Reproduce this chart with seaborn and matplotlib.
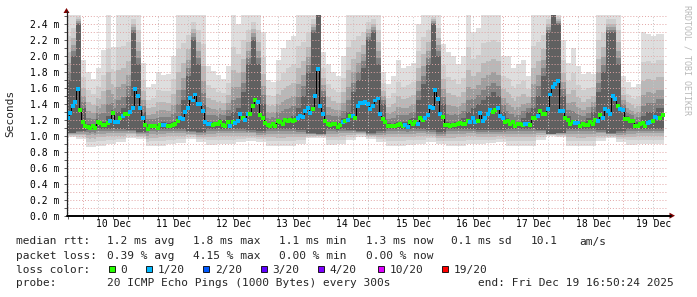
import numpy as np
import pandas as pd
import matplotlib
matplotlib.use("Agg")
import matplotlib.pyplot as plt
from matplotlib.lines import Line2D
from matplotlib.patches import Rectangle, Polygon
from matplotlib.ticker import MultipleLocator
import matplotlib.transforms as mtransforms
import seaborn as sns

# ---------------- data ----------------
# hourly median RTT in ms, starting Dec 9 ~17:40
median_ms = [
    1.227, 1.29, 1.37, 1.42, 1.59, 1.33, 1.18, 1.13, 1.11, 1.105,
    1.12, 1.105, 1.18, 1.16, 1.135, 1.14, 1.165, 1.185, 1.29, 1.18,
    1.18, 1.23, 1.255, 1.27, 1.28, 1.30, 1.35, 1.59, 1.50, 1.35,
    1.23, 1.135, 1.09, 1.12, 1.12, 1.12, 1.105, 1.135, 1.14, 1.14,
    1.127, 1.127, 1.135, 1.155, 1.19, 1.22, 1.21, 1.30, 1.345, 1.48,
    1.445, 1.52, 1.40, 1.395, 1.31, 1.18, 1.155, 1.15, 1.135, 1.15,
    1.15, 1.18, 1.14, 1.13, 1.18, 1.13, 1.18, 1.16, 1.185, 1.27,
    1.22, 1.20, 1.28, 1.28, 1.375, 1.45, 1.42, 1.26, 1.23, 1.165,
    1.135, 1.12, 1.145, 1.127, 1.185, 1.17, 1.15, 1.20, 1.19, 1.20,
    1.19, 1.195, 1.22, 1.245, 1.24, 1.31, 1.35, 1.29, 1.335, 1.50,
    1.84, 1.375, 1.27, 1.19, 1.145, 1.14, 1.15, 1.145, 1.11, 1.14,
    1.18, 1.19, 1.205, 1.25, 1.255, 1.225, 1.375, 1.41, 1.41, 1.42,
    1.40, 1.34, 1.375, 1.445, 1.47, 1.27, 1.21, 1.17, 1.13, 1.127,
    1.12, 1.13, 1.14, 1.145, 1.13, 1.14, 1.115, 1.18, 1.145, 1.17,
    1.155, 1.225, 1.205, 1.22, 1.26, 1.365, 1.355, 1.58, 1.465, 1.28,
    1.24, 1.14, 1.14, 1.13, 1.135, 1.14, 1.15, 1.165, 1.145, 1.15,
    1.19, 1.18, 1.22, 1.175, 1.19, 1.29, 1.19, 1.225, 1.28, 1.32,
    1.30, 1.32, 1.35, 1.245, 1.225, 1.18, 1.19, 1.145, 1.17, 1.12,
    1.15, 1.15, 1.135, 1.155, 1.15, 1.135, 1.225, 1.225, 1.255, 1.315,
    1.28, 1.28, 1.34, 1.52, 1.61, 1.65, 1.69, 1.315, 1.31, 1.225,
    1.20, 1.155, 1.175, 1.165, 1.165, 1.127, 1.15, 1.14, 1.135, 1.17,
    1.145, 1.195, 1.19, 1.26, 1.23, 1.335, 1.31, 1.27, 1.50, 1.465,
    1.375, 1.335, 1.32, 1.215, 1.215, 1.185, 1.185, 1.127, 1.127, 1.145,
    1.16, 1.13, 1.16, 1.17, 1.19, 1.24, 1.22, 1.23, 1.265,
]
# lost pings (out of 20) for each hourly median
loss_count = [
    1, 1, 1, 1, 1, 0, 0, 0, 0, 0, 0, 0, 0, 0, 0, 0, 0, 1, 0, 1,
    1, 0, 1, 0, 0, 1, 1, 1, 1, 1, 1, 0, 0, 0, 0, 0, 0, 0, 1, 1,
    0, 0, 0, 0, 0, 1, 1, 1, 1, 1, 1, 1, 1, 1, 1, 1, 1, 1, 0, 0,
    0, 0, 0, 0, 0, 1, 0, 1, 1, 1, 0, 1, 1, 0, 0, 0, 1, 0, 0, 0,
    0, 0, 0, 0, 0, 0, 0, 0, 0, 0, 0, 0, 1, 1, 1, 1, 1, 1, 0, 1,
    1, 1, 1, 0, 0, 0, 0, 0, 0, 0, 1, 0, 1, 0, 1, 0, 1, 1, 1, 1,
    1, 1, 1, 1, 1, 1, 0, 0, 0, 0, 0, 0, 0, 0, 0, 1, 1, 0, 0, 0,
    1, 0, 0, 1, 1, 1, 1, 1, 1, 1, 0, 0, 0, 0, 0, 0, 0, 0, 0, 0,
    0, 1, 1, 1, 0, 1, 1, 1, 1, 1, 0, 0, 1, 1, 1, 0, 0, 0, 0, 0,
    0, 0, 0, 1, 1, 0, 0, 0, 1, 0, 0, 0, 1, 1, 1, 1, 1, 1, 1, 0,
    0, 0, 0, 1, 1, 0, 0, 0, 0, 0, 0, 0, 1, 0, 1, 1, 1, 1, 1, 1,
    0, 1, 1, 0, 0, 0, 0, 0, 0, 0, 0, 0, 1, 1, 0, 1, 1, 0, 0,
]
# smoke: 2-hour columns (upper edge of lightest smoke, upper edge of darkest smoke)
smoke_top_ms = [
    2.55, 2.55, 2.55, 1.95, 1.80, 1.72, 1.85, 2.08, 2.55, 2.12,
    2.55, 2.55, 2.55, 2.55, 2.55, 1.92, 1.62, 1.65, 1.80, 1.77,
    1.78, 2.00, 2.55, 2.55, 2.55, 2.55, 2.55, 2.55, 1.88, 1.82,
    1.76, 1.72, 1.88, 2.55, 2.40, 2.55, 2.55, 2.55, 2.55, 2.30,
    1.70, 1.68, 1.95, 2.10, 2.20, 2.25, 2.55, 2.55, 2.55, 2.55,
    2.55, 2.05, 1.90, 1.80, 1.75, 2.00, 2.55, 2.55, 2.55, 2.55,
    2.55, 2.55, 2.55, 1.80, 1.65, 1.75, 1.95, 1.85, 1.88, 1.92,
    2.40, 2.55, 2.55, 2.55, 2.55, 2.15, 2.05, 2.00, 1.90, 2.00,
    2.55, 2.30, 2.35, 2.55, 2.55, 2.55, 2.55, 2.00, 2.00, 1.85,
    1.90, 1.95, 1.75, 2.55, 2.55, 2.55, 2.55, 2.55, 2.55, 2.20,
    1.92, 2.10, 1.88, 1.78, 1.80, 1.78, 2.55, 2.55, 2.55, 2.55,
    2.55, 1.75, 1.68, 1.62, 1.65, 2.30, 2.28, 2.25, 2.28, 2.28,
]
smoke_core_hi_ms = [
    1.70, 2.00, 2.40, 1.35, 1.15, 1.15, 1.15, 1.18, 1.25, 1.25,
    1.30, 1.35, 1.50, 2.30, 1.90, 1.30, 1.15, 1.15, 1.15, 1.15,
    1.15, 1.18, 1.25, 1.45, 1.75, 2.20, 1.90, 1.40, 1.18, 1.18,
    1.18, 1.20, 1.25, 1.30, 1.35, 1.55, 1.90, 2.20, 1.90, 1.40,
    1.15, 1.15, 1.18, 1.20, 1.22, 1.25, 1.35, 1.50, 1.80, 2.30,
    2.55, 1.50, 1.18, 1.15, 1.18, 1.22, 1.30, 1.55, 1.70, 1.85,
    2.20, 2.30, 1.90, 1.40, 1.15, 1.15, 1.15, 1.18, 1.18, 1.22,
    1.45, 1.65, 1.90, 2.40, 2.00, 1.40, 1.15, 1.15, 1.18, 1.22,
    1.30, 1.35, 1.40, 1.45, 1.50, 1.55, 1.50, 1.30, 1.18, 1.15,
    1.18, 1.22, 1.30, 1.35, 1.50, 1.75, 2.30, 2.55, 2.40, 1.50,
    1.25, 1.18, 1.18, 1.18, 1.22, 1.30, 1.55, 1.80, 2.30, 2.30,
    1.90, 1.35, 1.18, 1.15, 1.18, 1.25, 1.30, 1.30, 1.35, 1.35,
]
# smoke: 4-hour columns (lower edge of darkest smoke, lower edge of lightest smoke)
smoke_core_lo_ms = [
    1.04, 1.06, 1.09, 1.09, 1.09, 1.09, 1.07, 1.05, 1.09, 1.09,
    1.09, 1.09, 1.06, 1.05, 1.09, 1.09, 1.09, 1.09, 1.07, 1.06,
    1.09, 1.09, 1.09, 1.08, 1.04, 1.03, 1.09, 1.09, 1.08, 1.06,
    1.04, 1.06, 1.09, 1.09, 1.09, 1.09, 1.07, 1.05, 1.09, 1.09,
    1.09, 1.08, 1.07, 1.07, 1.09, 1.09, 1.09, 1.08, 1.03, 1.04,
    1.09, 1.09, 1.09, 1.07, 1.04, 1.06, 1.09, 1.09, 1.09, 1.09,
]
smoke_bot_ms = [
    0.99, 0.96, 0.86, 0.88, 0.90, 0.92, 0.98, 0.96, 0.87, 0.88,
    0.90, 0.91, 0.96, 0.93, 0.89, 0.90, 0.90, 0.92, 0.94, 0.92,
    0.88, 0.87, 0.88, 0.90, 0.97, 0.98, 0.89, 0.90, 0.95, 0.99,
    0.96, 0.92, 0.88, 0.88, 0.89, 0.90, 0.93, 0.90, 0.87, 0.88,
    0.90, 0.90, 0.91, 0.92, 0.88, 0.88, 0.88, 0.95, 1.00, 0.99,
    0.88, 0.87, 0.88, 0.94, 0.97, 0.92, 0.89, 0.90, 0.90, 0.90,
]

day_labels = ["10 Dec", "11 Dec", "12 Dec", "13 Dec", "14 Dec",
              "15 Dec", "16 Dec", "17 Dec", "18 Dec", "19 Dec"]
y_tick_values = [0.0, 0.2, 0.4, 0.6, 0.8, 1.0, 1.2, 1.4, 1.6, 1.8, 2.0, 2.2, 2.4]
y_tick_labels = ["0.0 m", "0.2 m", "0.4 m", "0.6 m", "0.8 m", "1.0 m", "1.2 m",
                 "1.4 m", "1.6 m", "1.8 m", "2.0 m", "2.2 m", "2.4 m"]
loss_labels = ["0", "1/20", "2/20", "3/20", "4/20", "10/20", "19/20"]
loss_colors = ["#26ff00", "#00b8ff", "#0059ff", "#5e00ff", "#7e00ff", "#dd00ff", "#ff0000"]
rtt_stats = ["1.2 ms avg", "1.8 ms max", "1.1 ms min", "1.3 ms now", "0.1 ms sd", "10.1", "am/s"]
loss_stats = ["0.39 % avg", "4.15 % max", "0.00 % min", "0.00 % now"]
probe_text = "20 ICMP Echo Pings (1000 Bytes) every 300s"
end_text = "end: Fri Dec 19 16:50:24 2025"

# ---------------- figure ----------------
W, H = 697, 297
sns.set_style("white")
plt.rcParams["font.family"] = ["DejaVu Sans Mono", "DejaVu Sans"]

fig = plt.figure(figsize=(W / 100, H / 100), dpi=100, facecolor="white")


def fx(x):
    return x / W


def fy(y):
    return 1 - y / H


AX_L, AX_R, AX_B, AX_T = 66.5, 666.5, 215.7, 15.3
ax = fig.add_axes([fx(AX_L), fy(AX_B), (AX_R - AX_L) / W, (AX_B - AX_T) / H])
ax.set_facecolor("white")

n = len(median_ms)
hours = -6.3 + np.arange(n)            # hours relative to Dec 10 00:00
med = np.array(median_ms)
top = np.repeat(smoke_top_ms, 2)[:n]
chi = np.repeat(smoke_core_hi_ms, 2)[:n]
clo = np.repeat(smoke_core_lo_ms, 4)[:n]
bot = np.repeat(smoke_bot_ms, 4)[:n]
chi = np.maximum(chi, med + 0.03)
clo = np.minimum(clo, med - 0.03)
top = np.maximum(top, chi)
bot = np.minimum(bot, clo)

edges = np.append(hours - 0.5, hours[-1] + 0.5)


def ext(a):
    return np.append(a, a[-1])


# smoke layers, lightest (outer) to darkest (inner)
fr_up = [1.0, 0.65, 0.42, 0.25, 0.12, 0.0]
fr_dn = [1.0, 0.72, 0.5, 0.3, 0.15, 0.0]
shades = ["#dedede", "#cecece", "#b8b8b8", "#9e9e9e", "#818181", "#606060"]
for fu, fd, c in zip(fr_up, fr_dn, shades):
    hi = chi + fu * (top - chi)
    lo = clo - fd * (clo - bot)
    ax.fill_between(edges, ext(lo), ext(hi), step="post", color=c, linewidth=0, zorder=1)

df = pd.DataFrame({"hour": hours, "median": med,
                   "loss": [loss_labels[k] for k in loss_count]})
sns.lineplot(data=df, x="hour", y="median", ax=ax, color="black", linewidth=0.7,
             drawstyle="steps-mid", estimator=None, zorder=3)
present = [l for l in loss_labels if l in set(df["loss"])]
pal = {l: c for l, c in zip(loss_labels, loss_colors) if l in present}
sns.scatterplot(data=df, x="hour", y="median", hue="loss", hue_order=present, palette=pal,
                marker="s", s=8, linewidth=0, legend=False, ax=ax, zorder=4)

ax.set_xlim(-6.72, 233.28)
ax.set_ylim(0, 2.513)
ax.set_xlabel("")
ax.set_ylabel("")
for sp in ax.spines.values():
    sp.set_visible(False)

ax.set_yticks(y_tick_values)
ax.set_yticklabels(y_tick_labels)
ax.yaxis.set_minor_locator(MultipleLocator(0.1))
ax.set_xticks(np.arange(0, 234, 24))
ax.set_xticklabels([])
ax.xaxis.set_minor_locator(MultipleLocator(6))
ax.tick_params(axis="y", which="both", length=2, width=0.6, pad=3.0, labelsize=7,
               color="#444444", labelcolor="black", left=True)
ax.tick_params(axis="x", which="both", length=2.5, width=0.6, color="#444444", bottom=True)

dot = (0, (1, 2))
ax.grid(which="both", axis="y", color="#e2a4a4", linestyle=dot, linewidth=0.7)
ax.grid(which="major", axis="x", color="#e2a4a4", linestyle=dot, linewidth=0.7)
ax.grid(which="minor", axis="x", color="#c8c8c8", linestyle=dot, linewidth=0.7)
ax.set_axisbelow(False)

# day labels at noon
blend = mtransforms.blended_transform_factory(ax.transData, fig.transFigure)
for k, lab in enumerate(day_labels):
    ax.text(12 + 24 * k, fy(227.3), lab, transform=blend, ha="center", va="baseline",
            fontsize=7, color="black")

# axis lines + arrows
fig.add_artist(Line2D([fx(AX_L), fx(AX_L)], [fy(AX_B), fy(11)], color="#222222", lw=0.9))
fig.add_artist(Line2D([fx(AX_L), fx(671)], [fy(AX_B), fy(AX_B)], color="black", lw=1.4))
fig.add_artist(Polygon([[fx(AX_L), fy(8)], [fx(AX_L - 3), fy(13)], [fx(AX_L + 3), fy(13)]],
                       closed=True, transform=fig.transFigure, color="#7f0000", lw=0))
fig.add_artist(Polygon([[fx(675), fy(AX_B)], [fx(669.5), fy(AX_B - 3)], [fx(669.5), fy(AX_B + 3)]],
                       closed=True, transform=fig.transFigure, color="#7f0000", lw=0))

# y label and watermark
fig.text(fx(10), fy(113), "Seconds", rotation=90, ha="center", va="center", fontsize=8)
fig.text(fx(687), fy(5), "RRDTOOL / TOBI OETIKER", rotation=270, ha="center", va="top",
         fontsize=6, color="#b8b8b8")

# legend block
FS = 8
rtt_x = [107, 192.7, 278.7, 366, 451, 530.7, 579.3]
fig.text(fx(16), fy(244.5), "median rtt:", fontsize=FS, va="baseline")
for x, s in zip(rtt_x, rtt_stats):
    fig.text(fx(x), fy(244.5), s, fontsize=FS, va="baseline")
fig.text(fx(16), fy(259.3), "packet loss:", fontsize=FS, va="baseline")
for x, s in zip(rtt_x[:4], loss_stats):
    fig.text(fx(x), fy(259.3), s, fontsize=FS, va="baseline")
fig.text(fx(16), fy(272.8), "loss color:", fontsize=FS, va="baseline")
sq_x = [109.3, 146, 203.3, 260.7, 318, 378.3, 442.3]
for x, lab, col in zip(sq_x, loss_labels, loss_colors):
    fig.add_artist(Rectangle((fx(x), fy(271.7)), 6 / W, 6 / H, transform=fig.transFigure,
                             facecolor=col, edgecolor="black", lw=0.6))
    fig.text(fx(x + 11.4), fy(272.8), lab, fontsize=FS, va="baseline")
fig.text(fx(16), fy(286.5), "probe:", fontsize=FS, va="baseline")
fig.text(fx(107), fy(286.5), probe_text, fontsize=FS, va="baseline")
fig.text(fx(478.3), fy(286.5), end_text, fontsize=FS, va="baseline")

fig.savefig("out.png", dpi=100, facecolor="white")
